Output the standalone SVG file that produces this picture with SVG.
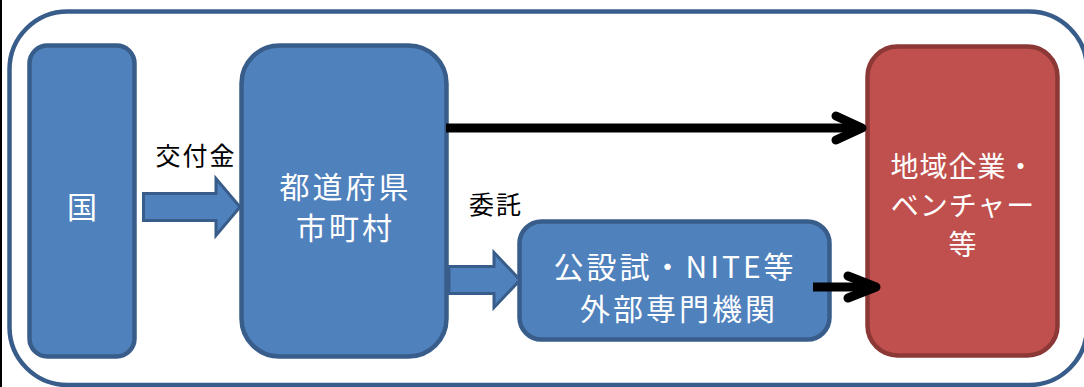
<svg xmlns="http://www.w3.org/2000/svg" width="1084" height="387" viewBox="0 0 1084 387">
<style>
.blue{fill:#4F81BD;stroke:#385D8A;stroke-width:4.5}
.red{fill:#C0504D;stroke:#8C3836;stroke-width:4.5}
.wt{fill:#FFFFFF;font-family:"Noto Sans CJK JP","Noto Sans CJK SC",sans-serif;font-size:30px;text-anchor:middle;letter-spacing:3px}
.rt{fill:#FFFFFF;font-family:"Noto Sans CJK JP","Noto Sans CJK SC",sans-serif;font-size:28px;text-anchor:middle;letter-spacing:1px}
.bt{fill:#000000;font-family:"Noto Sans CJK JP","Noto Sans CJK SC",sans-serif;font-size:25px;text-anchor:middle;letter-spacing:2px}
.bk{fill:none;stroke:#000;stroke-width:9}
.bkh{fill:none;stroke:#000;stroke-width:9;stroke-linecap:round;stroke-linejoin:round}
.barrow{fill:#4F81BD;stroke:#385D8A;stroke-width:3}
</style>
<rect x="0" y="0" width="1084" height="387" fill="#FFFFFF"/>
<line x1="1" y1="0" x2="1" y2="387" stroke="#000" stroke-width="2"/>
<g id="frame">
<rect x="9.5" y="11.5" width="1077.5" height="373.5" rx="58" ry="58" fill="none" stroke="#385D8A" stroke-width="4.5"/>
</g>
<g id="kuni">
<rect class="blue" x="29.5" y="45.5" width="105" height="311" rx="18" ry="18"/>
<text class="wt" x="83.5" y="218">国</text>
</g>
<g id="todofuken">
<rect class="blue" x="241.5" y="45.5" width="205" height="311" rx="38" ry="38"/>
<text class="wt" x="345.5" y="198">都道府県</text>
<text class="wt" x="345.5" y="239">市町村</text>
</g>
<g id="kousetsushi">
<rect class="blue" x="519.5" y="221.5" width="310" height="118" rx="22" ry="22"/>
<text class="wt" x="675" y="278">公設試・NITE等</text>
<text class="wt" x="679" y="320">外部専門機関</text>
</g>
<g id="chiiki">
<rect class="red" x="867.5" y="46.5" width="190" height="309" rx="30" ry="30"/>
<text class="rt" x="963" y="177">地域企業・</text>
<text class="rt" x="963" y="216">ベンチャー</text>
<text class="rt" x="963" y="255">等</text>
</g>
<g id="connectors">
<path class="barrow" d="M143.5,193.5 H216 V178.5 L240,207 L216,235.5 V220.5 H143.5 Z"/>
<text class="bt" x="196" y="165">交付金</text>
<path class="barrow" d="M449,266.5 H494 V252.5 L520,280 L494,307.5 V293.5 H449 Z"/>
<text class="bt" x="496" y="214">委託</text>
<path class="bk" d="M446,128 H860"/>
<path class="bkh" d="M836,116 L862,128 L836,140"/>
<path class="bk" d="M813,287 H872"/>
<path class="bkh" d="M848,276 L876,287 L848,298"/>
</g>
</svg>
